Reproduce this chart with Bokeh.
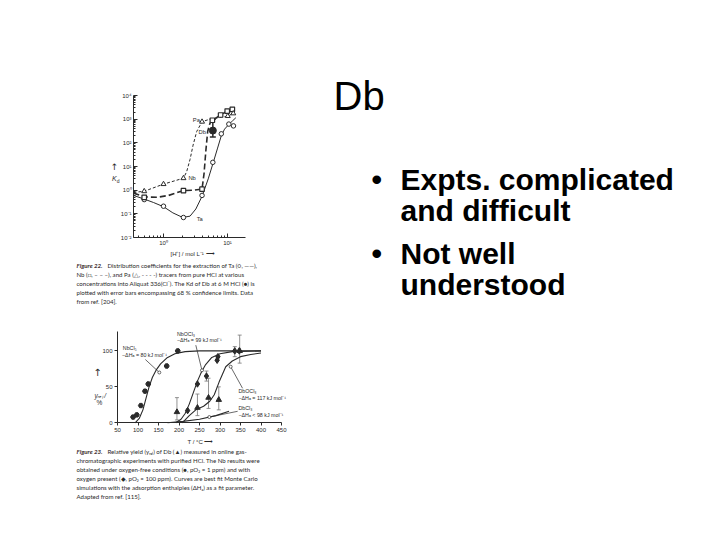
from bokeh.plotting import figure
from bokeh.layouts import row, column
from bokeh.models import (Range1d, FixedTicker, CustomJSTickFormatter, Label,
                          Whisker, ColumnDataSource, TeeHead)
from bokeh.core.properties import value
from bokeh.embed import file_html
from bokeh.resources import INLINE

# ---------------- Figure 22 data (K_d vs [H+]) ----------------
k_ticks = [0.01, 0.1, 1, 10, 100, 1000, 10000]
k_tick_labels = ["10⁻²", "10⁻¹", "10⁰", "10¹", "10²", "10³", "10⁴"]
h_ticks = [1, 10]
h_tick_labels = ["10⁰", "10¹"]
h_axis_span = [0.34, 19]

ta_x = [0.5, 1.0, 2.05, 4.0, 5.9, 8.0, 10.5, 12.4]
ta_k = [0.40, 0.21, 0.07, 0.6, 15, 240, 620, 520]
nb_x = [0.5, 2.05, 4.0, 5.8, 7.8, 9.9, 11.9]
nb_k = [0.5, 0.95, 1.1, 900, 1500, 2200, 2600]
pa_x = [0.5, 1.0, 2.05, 4.0, 10.1, 12.3]
pa_k = [0.9, 1.8, 3.2, 780, 1350, 1750]
db_x = [5.9]
db_k = [330]
db_k_lo = [175]
db_k_hi = [1000]

ta_curve_x = [0.34, 0.5, 0.7, 1.0, 1.4, 2.0, 2.6, 3.2, 4.0, 5.0, 6.0, 7.0, 8.0, 9.0, 10.5, 12.0, 13.5]
ta_curve_k = [0.6, 0.42, 0.3, 0.2, 0.11, 0.07, 0.08, 0.16, 0.55, 3, 15, 60, 200, 380, 600, 850, 1150]
nb_curve_x = [0.34, 0.5, 0.8, 1.2, 2.0, 3.0, 4.0, 4.3, 4.6, 4.9, 5.3, 5.8, 7.8, 9.9, 11.9]
nb_curve_k = [0.75, 0.52, 0.5, 0.6, 0.95, 1.0, 1.1, 5, 50, 300, 650, 900, 1500, 2200, 2600]
pa_curve_x = [0.34, 0.5, 1.0, 2.05, 2.3, 2.6, 2.9, 3.3, 4.0, 5.0, 6.0, 8.0, 10.1, 12.3]
pa_curve_k = [0.8, 0.9, 1.8, 3.2, 6, 20, 80, 300, 780, 950, 1050, 1200, 1350, 1750]

# ---------------- Figure 23 data (relative yield vs T) ----------------
t_ticks = [50, 100, 150, 200, 250, 300, 350, 400, 450]
y_ticks = [0, 50, 100]
y_axis_top = 127

nb1_t = [88, 97, 107, 117, 125, 170, 197]
nb1_y = [8, 11, 24, 44, 54, 79, 100]
nb2_t = [221, 245, 267, 293, 295, 336, 347]
nb2_y = [17, 54, 65, 87, 92, 100, 100]
nb2_lo = [17, 54, 58, 87, 92, 92, 100]
nb2_hi = [17, 54, 72, 87, 92, 106, 100]
db_t = [195, 245, 272, 297, 348]
db_y = [15, 21, 35, 32, 100]
db_lo = [4, 10, 20, 18, 83]
db_hi = [35, 40, 62, 50, 122]

nbcl5_t = [93, 103, 112, 120, 127, 135, 145, 155, 170, 190, 215, 250, 400]
nbcl5_y = [0, 6, 18, 35, 50, 63, 74, 82, 90, 96, 99, 100, 100]
nbocl3_t = [192, 205, 215, 225, 235, 245, 255, 265, 280, 300, 330, 400]
nbocl3_y = [0, 5, 13, 26, 42, 58, 71, 81, 91, 96, 99, 100]
dbocl3_t = [208, 225, 241, 260, 275, 286, 298, 314, 330, 350, 375, 400]
dbocl3_y = [0, 10, 18, 23, 30, 39, 57, 78, 86, 92, 95, 97]
dbcl3_t = [172, 210, 250, 290, 322]
dbcl3_y = [0, 2, 5, 10, 16]

# ---------------- slide text ----------------
slide_title = "Db"
bullets = ["•", "•"]
bullet_lines = ["Expts. complicated", "and difficult", "Not well", "understood"]

cap22_head = "Figure 22."
cap22_lines = [
    "Distribution coefficients for the extraction of Ta (○, ——),",
    "Nb (□, – – –), and Pa (△, - - - -) tracers from pure HCl at various",
    "concentrations into Aliquat 336(Cl⁻). The Kd of Db at 6 M HCl (●) is",
    "plotted with error bars encompassing 68 % confidence limits. Data",
    "from ref. [204].",
]
cap23_head = "Figure 23."
cap23_lines = [
    "Relative yield (yᵣₑₗ) of Db (▲) measured in online gas-",
    "chromatographic experiments with purified HCl. The Nb results were",
    "obtained under oxygen-free conditions (●, pO₂ = 1 ppm) and with",
    "oxygen present (◆, pO₂ ≈ 100 ppm). Curves are best fit Monte Carlo",
    "simulations with the adsorption enthalpies (ΔHₐ) as a fit parameter.",
    "Adapted from ref. [115].",
]

INK = "#2a2a2a"
CF = value("Liberation Sans")
CAPF = value("Lato")

# ---- page geometry (pixels, layout placed at the page's top-left corner) ----
COL_W = 318
P1_Y0, P1_H = 0, 249
C1_Y0, C1_H = 249, 69
P2_Y0, P2_H = 318, 116
C2_Y0, C2_H = 434, 98
R_X0, R_W, R_H = 318, 394, 532


def new_fig(w, h, xr, yr, **kw):
    p = figure(width=w, height=h, x_range=xr, y_range=yr, min_border=0,
               toolbar_location=None, output_backend="svg", outline_line_color=None, **kw)
    p.grid.visible = False
    return p


def text_panel(w, h, x0, y0):
    return new_fig(w, h, Range1d(x0, x0 + w), Range1d(y0 + h, y0),
                   x_axis_location=None, y_axis_location=None)


def log_formatter(tvals, tlabels):
    return CustomJSTickFormatter(args=dict(tvals=tvals, tlabels=tlabels), code="""
        let best = 0, bd = Infinity;
        for (let i = 0; i < tvals.length; i++) {
            const d = Math.abs(Math.log10(tick) - Math.log10(tvals[i]));
            if (d < bd) { bd = d; best = i; }
        }
        return tlabels[best];
    """)


def style_axis(ax, size, tin, tout):
    ax.major_tick_in = tin
    ax.major_tick_out = tout
    ax.minor_tick_in = 2 if tin else 0
    ax.minor_tick_out = 0
    ax.axis_line_color = INK
    ax.major_tick_line_color = INK
    ax.minor_tick_line_color = INK if tin else None
    ax.major_label_text_font = "Liberation Sans"
    ax.major_label_text_font_size = size
    ax.major_label_text_color = INK
    ax.major_label_standoff = 2


# ---------------- chart 1 (log-log) ----------------
# page anchors: [H+]=1 at x=163, one decade = 64 px; K=1e4 at y=95, K=1e-2 at y=237
X1_ONE, X1_DEC = 163, 64
Y1_TOP, Y1_BOT = 95, 237
y1_dec = (Y1_BOT - Y1_TOP) / 6.0
x1_lo = 10 ** ((0 - X1_ONE) / X1_DEC)
x1_hi = 10 ** ((COL_W - X1_ONE) / X1_DEC)
y1_hi = 10 ** (4 + (Y1_TOP - P1_Y0) / y1_dec)
y1_lo = 10 ** (-2 - (P1_Y0 + P1_H - Y1_BOT) / y1_dec)

p1 = new_fig(COL_W, P1_H, Range1d(x1_lo, x1_hi), Range1d(y1_lo, y1_hi),
             x_axis_type="log", y_axis_type="log")
style_axis(p1.xaxis[0], "6px", 4, 0)
style_axis(p1.yaxis[0], "6px", 4, 0)
p1.yaxis.fixed_location = h_axis_span[0]
p1.yaxis.bounds = (k_ticks[0], k_ticks[-1])
p1.xaxis.fixed_location = k_ticks[0]
p1.xaxis.bounds = tuple(h_axis_span)
p1.yaxis.ticker = FixedTicker(ticks=k_ticks,
                              minor_ticks=[m * t for t in k_ticks[:-1] for m in range(2, 10)])
p1.yaxis.formatter = log_formatter(k_ticks, k_tick_labels)
p1.xaxis.ticker = FixedTicker(ticks=h_ticks,
                              minor_ticks=[m * 0.1 for m in range(4, 10)] + [m * 1.0 for m in range(2, 10)])
p1.xaxis.formatter = log_formatter(h_ticks, h_tick_labels)

p1.line(ta_curve_x, ta_curve_k, line_color=INK, line_width=1)
p1.line(nb_curve_x, nb_curve_k, line_color=INK, line_width=1.6, line_dash="6 3")
p1.line(pa_curve_x, pa_curve_k, line_color=INK, line_width=1, line_dash="3 2")
p1.scatter(ta_x, ta_k, marker="circle", size=4.5, fill_color="white", line_color=INK)
p1.scatter(nb_x, nb_k, marker="square", size=4.5, fill_color="white", line_color=INK, line_width=1.2)
p1.scatter(pa_x, pa_k, marker="triangle", size=5, fill_color="white", line_color=INK)
dbsrc = ColumnDataSource(dict(x=db_x, k=db_k, lo=db_k_lo, hi=db_k_hi))
p1.add_layout(Whisker(source=dbsrc, base="x", lower="lo", upper="hi", dimension="height",
                      line_color=INK, line_width=1.5,
                      lower_head=TeeHead(size=6, line_color=INK, line_width=1.5),
                      upper_head=TeeHead(size=6, line_color=INK, line_width=1.5)))
p1.scatter("x", "k", source=dbsrc, marker="circle", size=7, fill_color=INK, line_color=INK)

for txt, x, y, align in [("Pa", 3.7, 900, "right"), ("Db", 4.6, 280, "right"),
                         ("Nb", 2.45, 3.2, "left"), ("Ta", 3.3, 0.06, "left")]:
    p1.add_layout(Label(x=x, y=y, text=txt, text_font="Liberation Sans", text_font_size="5.8px",
                        text_color=INK, text_align=align, text_baseline="middle"))
p1.add_layout(Label(x=0.171, y=10, text="↑", text_font="DejaVu Sans", text_font_size="9px",
                    text_color=INK, text_align="center", text_baseline="middle"))
p1.add_layout(Label(x=0.171, y=3.2, text="K", text_font="Liberation Sans", text_font_style="italic",
                    text_font_size="7px", text_color=INK, text_align="center", text_baseline="middle"))
p1.add_layout(Label(x=0.196, y=2.35, text="d", text_font="Liberation Sans",
                    text_font_size="5px", text_color=INK, text_align="center", text_baseline="middle"))

# ---------------- caption 1 ----------------
c1 = text_panel(COL_W, C1_H, 0, C1_Y0)
c1.text(x=[192], y=[253], text=["[H⁺] / mol L⁻¹ ⟶"], text_font=CF, text_font_size="6px",
        text_color=INK, text_align="center", text_baseline="middle")
c1.text(x=[76], y=[265], text=[cap22_head], text_font=CAPF, text_font_style="bold italic",
        text_font_size="6.1px", text_color="#3a2a2a", text_baseline="middle")
c1.text(x=[107] + [76] * (len(cap22_lines) - 1),
        y=[265 + i * 8.9 for i in range(len(cap22_lines))],
        text=cap22_lines, text_font=CAPF, text_font_size="6.1px", text_color=INK,
        text_baseline="middle")

# ---------------- chart 2 ----------------
# page anchors: T=50 at x=117, T=450 at x=281; y=0 at 422.3, y=127 at 331
T_PX0, T_PX1 = 117, 281
Y2_ZERO, Y2_TOP = 422.3, 331
t_scale = (T_PX1 - T_PX0) / (t_ticks[-1] - t_ticks[0])
y_scale = (Y2_ZERO - Y2_TOP) / y_axis_top
t_lo = t_ticks[0] - T_PX0 / t_scale
t_hi = t_ticks[-1] + (COL_W - T_PX1) / t_scale
y2_hi = y_axis_top + (Y2_TOP - P2_Y0) / y_scale
y2_lo = -(P2_Y0 + P2_H - Y2_ZERO) / y_scale

p2 = new_fig(COL_W, P2_H, Range1d(t_lo, t_hi), Range1d(y2_lo, y2_hi))
style_axis(p2.xaxis[0], "6px", 0, 3)
style_axis(p2.yaxis[0], "6px", 0, 3)
p2.yaxis.fixed_location = t_ticks[0]
p2.yaxis.bounds = (0, y_axis_top)
p2.xaxis.fixed_location = 0
p2.xaxis.bounds = (t_ticks[0], t_ticks[-1])
p2.xaxis.ticker = FixedTicker(ticks=t_ticks)
p2.yaxis.ticker = FixedTicker(ticks=y_ticks)

for xs, ys in [(nbcl5_t, nbcl5_y), (nbocl3_t, nbocl3_y), (dbocl3_t, dbocl3_y), (dbcl3_t, dbcl3_y)]:
    p2.line(xs, ys, line_color=INK, line_width=1.1)

nb2src = ColumnDataSource(dict(t=nb2_t, y=nb2_y, lo=nb2_lo, hi=nb2_hi))
dbsrc2 = ColumnDataSource(dict(t=db_t, y=db_y, lo=db_lo, hi=db_hi))
for src in (nb2src, dbsrc2):
    p2.add_layout(Whisker(source=src, base="t", lower="lo", upper="hi", dimension="height",
                          line_color="#777777", line_width=0.8,
                          lower_head=TeeHead(size=4, line_color="#777777", line_width=0.8),
                          upper_head=TeeHead(size=4, line_color="#777777", line_width=0.8)))
p2.scatter(nb1_t, nb1_y, marker="hex", size=5, fill_color=INK, line_color=INK)
p2.scatter("t", "y", source=nb2src, marker="diamond", size=6.5, fill_color=INK, line_color=INK)
p2.scatter("t", "y", source=dbsrc2, marker="triangle", size=5.5, fill_color=INK, line_color=INK)

# leader lines from labels to curves
leaders = [([118, 152], [88, 70]), ([241, 256], [108, 73]), ([355, 326], [48, 78]), ([343, 274], [16, 8])]
for lx, ly in leaders:
    p2.line(lx, ly, line_color=INK, line_width=0.7)
    p2.scatter([lx[1]], [ly[1]], marker="circle", size=3, fill_color="white", line_color=INK, line_width=0.7)

for txt, x, y in [("NbCl₅", 63, 104), ("−ΔHₐ = 80 kJ mol⁻¹", 61, 95),
                  ("NbOCl₃", 195, 124), ("−ΔHₐ = 99 kJ mol⁻¹", 195, 115),
                  ("DbOCl₃", 345, 44), ("−ΔHₐ = 117 kJ mol⁻¹", 345, 35),
                  ("DbCl₃", 345, 20), ("−ΔHₐ < 98 kJ mol⁻¹", 345, 11)]:
    p2.add_layout(Label(x=x, y=y, text=txt, text_font="Liberation Sans", text_font_size="5.3px",
                        text_color=INK, text_baseline="middle"))
p2.add_layout(Label(x=1, y=70, text="↑", text_font="DejaVu Sans", text_font_size="10px",
                    text_color=INK, text_align="center", text_baseline="middle"))
p2.add_layout(Label(x=-6, y=38, text="yᵣₑₗ /", text_font="Liberation Sans", text_font_style="italic",
                    text_font_size="6.5px", text_color=INK, text_baseline="middle"))
p2.add_layout(Label(x=-1, y=28, text="%", text_font="Liberation Sans",
                    text_font_size="6.5px", text_color=INK, text_baseline="middle"))

# ---------------- caption 2 ----------------
c2 = text_panel(COL_W, C2_H, 0, C2_Y0)
c2.text(x=[200], y=[441], text=["T / °C ⟶"], text_font=CF, text_font_size="6px",
        text_color=INK, text_align="center", text_baseline="middle")
c2.text(x=[76], y=[451], text=[cap23_head], text_font=CAPF, text_font_style="bold italic",
        text_font_size="6.1px", text_color="#3a2a2a", text_baseline="middle")
c2.text(x=[107] + [76] * (len(cap23_lines) - 1),
        y=[451 + i * 8.9 for i in range(len(cap23_lines))],
        text=cap23_lines, text_font=CAPF, text_font_size="6.1px", text_color=INK,
        text_baseline="middle")

# ---------------- right side: title and bullets ----------------
r = text_panel(R_W, R_H, R_X0, 0)
r.text(x=[333], y=[95], text=[slide_title], text_font=CF, text_font_size="40px",
       text_color="black", text_baseline="middle")
r.text(x=[371, 371], y=[178.5, 252.5], text=bullets, text_font=CF, text_font_size="30px",
       text_font_style="bold", text_color="black", text_baseline="middle")
r.text(x=[400] * 4, y=[178.5, 209.5, 252.5, 283.5], text=bullet_lines, text_font=CF,
       text_font_size="30px", text_font_style="bold", text_color="black", text_baseline="middle")

layout = row(column(p1, c1, p2, c2), r)
open("out.html", "w").write(file_html(layout, INLINE))
